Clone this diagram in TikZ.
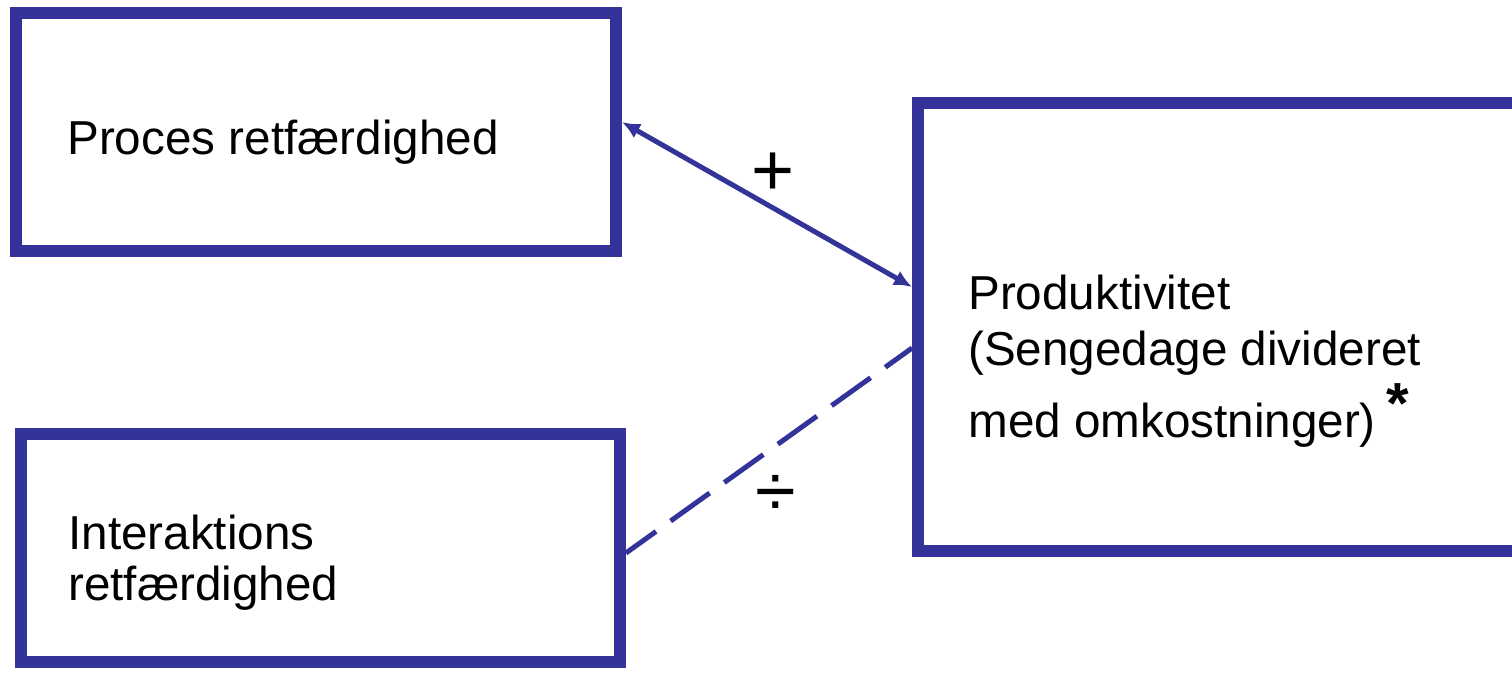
\documentclass[tikz,border=0pt]{standalone}
\usepackage{fontspec}
\setmainfont{Liberation Sans}
\usetikzlibrary{arrows.meta}
\definecolor{boxblue}{RGB}{51,51,153}
\tikzset{
  box/.style={draw=boxblue, line width=0.24cm, inner sep=0pt},
  txt/.style={anchor=base west, inner sep=0pt, align=left, font=\fontsize{27.1pt}{29pt}\selectfont},
  sign/.style={inner sep=0pt, font=\fontsize{42pt}{42pt}\selectfont},
  conn/.style={draw=boxblue, line width=0.1cm, >={Latex[length=0.36cm,width=0.32cm]}}
}
\begin{document}
\begin{tikzpicture}[x=0.02cm,y=-0.02cm]
    \useasboundingbox (0,0) rectangle (1512,673);
    \clip (0,0) rectangle (1512,673);
    % boxes
    \node[box, minimum width=12cm, minimum height=4.76cm] (proces) at (316,132) {};
    \node[box, minimum width=11.98cm, minimum height=4.56cm] (interak) at (320.5,548) {};
    \node[box, minimum width=12.84cm, minimum height=8.96cm] (produkt) at (1239,327) {};
    % texts (base = last line)
    \node[txt] (procestxt) at (67,154) {Proces retfærdighed};
    \node[txt] (interaktxt) at (68,600) {Interaktions\\retfærdighed};
    \node[txt, font=\fontsize{27.1pt}{31.9pt}\selectfont] (produkttxt) at (968,437)
        {Produktivitet\\(Sengedage divideret\\[9pt]med omkostninger)};
    \node[anchor=base, inner sep=0pt, font=\fontsize{33pt}{33pt}\selectfont\bfseries] (star) at (1398,423) {*};
    % connectors
    \draw[conn, <->] (proces.east |- 0,122) -- (produkt.west |- 0,287);
    \draw[conn, dash pattern=on 0.96cm off 0.36cm, dash phase=0.22cm] (interak.east |- 0,553) -- (produkt.west |- 0,348);
    % signs
    \node[sign] (plus) at (773,174) {+};
    \node[sign] (minus) at (776,496) {÷};
\end{tikzpicture}
\end{document}
